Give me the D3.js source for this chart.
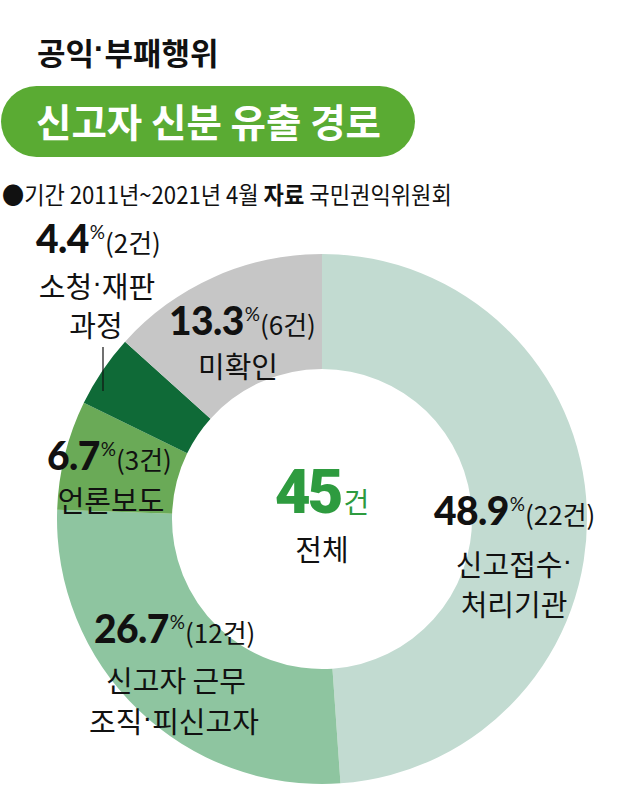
<!DOCTYPE html>
<html><head><meta charset="utf-8">
<script src="https://cdn.jsdelivr.net/npm/d3@7"></script>
<style>body{margin:0;background:#fff}svg{display:block}</style>
</head><body>
<script>
const categories = ["신고접수·처리기관", "신고자 근무 조직·피신고자", "언론보도", "소청·재판 과정", "미확인"];
const percents = [48.9, 26.7, 6.7, 4.4, 13.3];
const counts = [22, 12, 3, 2, 6];
const labelLines = [["신고접수·", "처리기관"], ["신고자 근무", "조직·피신고자"], ["언론보도"], ["소청·재판", "과정"], ["미확인"]];
const total = 45;

// layout (not data)
const colors = ["#c2dbd1", "#8ec5a0", "#6aaa57", "#0f6a37", "#c6c6c6"];
const pctPos = [[434, 525], [94, 643], [47, 470], [36, 253], [169, 335]];
const subPos = [[[514, 576], [514, 616]], [[176, 692], [174, 733]], [[111, 512]], [[97, 298], [96, 337]], [[238, 378]]];

const W = 640, H = 788;
const cx = 322, cy = 519, R = 265, r = 150;
const KR = "'Noto Sans CJK KR', 'Noto Sans', sans-serif";
const NUM = "Lato, 'Noto Sans', sans-serif";
const DOT = "'Liberation Sans', Arial, sans-serif";

const svg = d3.select("body").append("svg").attr("width", W).attr("height", H);

// write text, rendering the middle dot in a narrow latin font, raised to mid-height
function fill(t, str) {
  let raised = false;
  str.split(/(·)/).forEach(part => {
    if (!part) return;
    const s = t.append("tspan").text(part);
    if (part === "·") { s.attr("font-family", DOT).attr("dy", "-0.2em"); raised = true; }
    else if (raised) { s.attr("dy", "0.2em"); raised = false; }
  });
  return t;
}

// Title
fill(svg.append("text").attr("x", 37).attr("y", 65).attr("font-family", KR).attr("font-weight", 700)
  .attr("font-size", 31).attr("fill", "#111"), "공익·부패행위");
svg.append("rect").attr("x", 1).attr("y", 86).attr("width", 414).attr("height", 71).attr("rx", 35.5)
  .attr("fill", "#5aab33");
svg.append("text").attr("x", 36).attr("y", 137).attr("font-family", KR).attr("font-weight", 700)
  .attr("font-size", 38.5).attr("fill", "#fff").text("신고자 신분 유출 경로");

// Subtitle (horizontally condensed to the reference width)
const subG = svg.append("g");
const sub = subG.append("text").attr("x", 0).attr("y", 204).attr("font-family", KR).attr("font-size", 24)
  .attr("fill", "#111");
sub.append("tspan").text("●기간 2011년~2021년 4월 ");
sub.append("tspan").attr("font-weight", 700).text("자료");
sub.append("tspan").text(" 국민권익위원회");
const natural = sub.node().getComputedTextLength();
subG.attr("transform", `translate(2,0) scale(${450 / natural},1)`);

// Donut
const pie = d3.pie().sort(null).value(d => d).startAngle(0).endAngle(2 * Math.PI);
const arc = d3.arc().innerRadius(r).outerRadius(R);
const g = svg.append("g").attr("transform", `translate(${cx},${cy})`);
g.selectAll("path").data(pie(counts)).join("path").attr("d", arc).attr("fill", (d, i) => colors[i]);

// Leader line for 4.4%
svg.append("line").attr("x1", 103).attr("x2", 103).attr("y1", 347).attr("y2", 391)
  .attr("stroke", "#111").attr("stroke-width", 1.2);

// Percent labels
percents.forEach((p, i) => {
  const t = svg.append("text").attr("x", pctPos[i][0]).attr("y", pctPos[i][1]).attr("fill", "#111");
  t.append("tspan").attr("font-family", NUM).attr("font-weight", 900).attr("font-size", 39)
    .attr("letter-spacing", -0.6).text(p.toFixed(1));
  t.append("tspan").attr("font-family", NUM).attr("font-size", 19).attr("dy", -14).attr("dx", 1).text("%");
  t.append("tspan").attr("font-family", KR).attr("font-size", 26).attr("dy", 14).attr("dx", 0)
    .text(`(${counts[i]}건)`);
  labelLines[i].forEach((line, j) => {
    fill(svg.append("text").attr("x", subPos[i][j][0]).attr("y", subPos[i][j][1]).attr("text-anchor", "middle")
      .attr("font-family", KR).attr("font-size", 29).attr("fill", "#111"), line);
  });
});

// Center
const ct = svg.append("text").attr("x", cx).attr("y", 513).attr("text-anchor", "middle").attr("fill", "#2e9b3f");
ct.append("tspan").attr("font-family", "Roboto, 'DejaVu Sans', sans-serif").attr("font-weight", 900)
  .attr("font-size", 62).attr("letter-spacing", -3).text(total);
ct.append("tspan").attr("font-family", KR).attr("font-size", 28).attr("dx", 3).text("건");
fill(svg.append("text").attr("x", cx).attr("y", 561).attr("text-anchor", "middle").attr("font-family", KR)
  .attr("font-size", 29).attr("fill", "#111"), "전체");
</script>
</body></html>
